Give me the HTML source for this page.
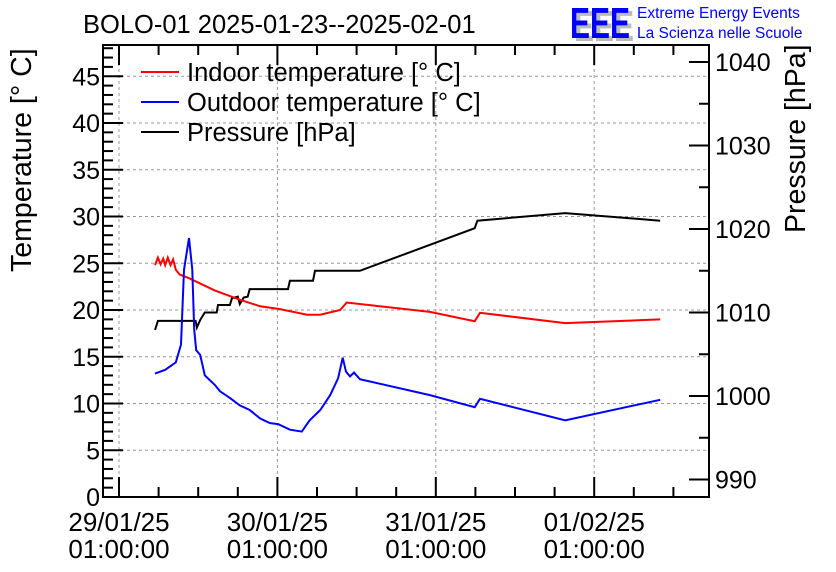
<!DOCTYPE html>
<html><head><meta charset="utf-8"><style>
body{margin:0;background:#fff;}
svg{display:block;font-family:"Liberation Sans",sans-serif;}
</style></head><body>
<svg id="c" width="836" height="572"></svg>
<script>
// data: hours since 29/01/25 01:00:00
const indoorT=[5.45,5.9,6.3,6.7,7.0,7.4,7.8,8.2,8.6,9.2,10.6,14.5,18.3,21.4,24.4,28.5,30.5,33.5,34.5,47.1,53.9,54.7,67.6,82.0];
const indoorV=[24.8,25.6,24.9,25.5,24.8,25.6,24.8,25.4,24.3,23.8,23.4,22.1,21.1,20.4,20.1,19.5,19.5,20.0,20.8,19.8,18.8,19.7,18.6,19.0];
const outdoorT=[5.45,7.0,8.0,8.6,9.4,9.85,10.6,11.1,11.4,11.7,12.3,13.0,14.5,15.3,16.8,18.3,19.8,21.4,22.9,24.1,25.9,27.7,28.9,30.5,32.0,33.2,33.9,34.4,35.0,35.6,36.5,47.1,53.9,54.7,67.6,82.0];
const outdoorV=[13.2,13.6,14.1,14.4,16.3,24.3,27.7,24.3,17.9,15.7,15.2,13.0,12.0,11.3,10.6,9.8,9.3,8.4,7.9,7.8,7.2,7.0,8.2,9.3,10.9,12.7,14.9,13.4,12.9,13.3,12.6,10.9,9.6,10.5,8.2,10.4];
const pressT=[5.45,5.9,11.6,11.8,12.3,13.0,14.8,15.0,16.8,17.1,18.0,18.3,18.9,19.5,19.8,25.6,25.9,29.4,29.7,36.5,53.9,54.3,67.6,82.0];
const pressV=[1007.9,1009.0,1009.0,1008.2,1009.1,1010.0,1010.0,1010.9,1010.9,1011.7,1011.9,1011.0,1011.8,1011.9,1012.8,1012.8,1013.8,1013.8,1015.0,1015.0,1020.1,1021.0,1021.9,1021.0];
const yTicks=[0,5,10,15,20,25,30,35,40,45];
const pTicks=[990,1000,1010,1020,1030,1040];
const xDays=["29/01/25","30/01/25","31/01/25","01/02/25"];

const L=103,R=709,T=45,B=497;
const X=h=>119+h*6.6;
const Y=v=>497-v*9.35;
const P=p=>479.5-(p-990)*8.35;
const svg=document.getElementById('c');
const NS='http://www.w3.org/2000/svg';
function mk(tag,attrs,parent){const e=document.createElementNS(NS,tag);for(const k in attrs)e.setAttribute(k,attrs[k]);(parent||svg).appendChild(e);return e;}

// grid
const grid=mk('g',{stroke:'#999','stroke-dasharray':'3,3','stroke-width':1});


yTicks.forEach(v=>{if(v>0)mk('line',{x1:L,x2:R,y1:Y(v),y2:Y(v)},grid);});
xDays.forEach((d,i)=>mk('line',{x1:X(i*24),x2:X(i*24),y1:T,y2:B},grid));

// series
function series(ts,vs,fy,color,name){
  const pts=ts.map((t,i)=>X(t).toFixed(1)+','+fy(vs[i]).toFixed(1)).join(' ');
  const e=mk('polyline',{points:pts,fill:'none',stroke:color,'stroke-width':2,'stroke-linejoin':'miter'});
  
  
}
series(pressT,pressV,P,'#000','pressure-line');
series(indoorT,indoorV,Y,'#f00','indoor-temperature-line');
series(outdoorT,outdoorV,Y,'#00f','outdoor-temperature-line');

// frame
const fr=mk('rect',{x:L,y:T,width:R-L,height:B-T,fill:'none',stroke:'#000','stroke-width':2});



// axis ticks
const ax=mk('g',{stroke:'#000','stroke-width':2});
for(let v=0;v<=48;v++){const len=v%5==0?20:10;mk('line',{x1:L,x2:L+len,y1:Y(v),y2:Y(v)},ax);}
for(let p=989;p<=1041;p++){if(p%5!=0)continue;const len=p%10==0?20:10;mk('line',{x1:R,x2:R-len,y1:P(p),y2:P(p)},ax);}
for(let h=-6;h<=90;h+=6){const x=X(h);if(x<L||x>R)continue;const len=h%24==0?20:10;mk('line',{x1:x,x2:x,y1:B,y2:B-len},ax);mk('line',{x1:x,x2:x,y1:T,y2:T+len},ax);}

function txt(s,x,y,attrs,name){const e=mk('text',Object.assign({x:x,y:y,'font-size':25,fill:'#000'},attrs||{}));e.textContent=s;return e;}
yTicks.forEach(v=>txt(String(v),L-3,Y(v)+9,{'text-anchor':'end'},'y-tick-label'));
pTicks.forEach(p=>txt(String(p),R+6,P(p)+9,{},'pressure-tick-label'));
xDays.forEach((d,i)=>{txt(d,X(i*24),531,{'text-anchor':'middle','font-size':26},'x-tick-date');txt('01:00:00',X(i*24),558,{'text-anchor':'middle','font-size':26},'x-tick-time');});

txt('BOLO-01 2025-01-23--2025-02-01',83,33,{'font-size':25.5},'chart-title');
txt('Temperature [° C]',0,0,{'font-size':28.5,transform:'translate(31,272) rotate(-90)'},'y-axis-title');
txt('Pressure [hPa]',0,0,{'font-size':28.5,transform:'translate(805,233) rotate(-90)'},'pressure-axis-title');

// legend
[['Indoor temperature [° C]','#f00',72],['Outdoor temperature [° C]','#00f',102],['Pressure [hPa]','#000',132]].forEach(([s,c,y],i)=>{
  const l=mk('line',{x1:141,x2:179,y1:y,y2:y,stroke:c,'stroke-width':2});
  
  
  txt(s,187,y+9,{'font-size':25.5},'legend-entry');
});

// logo
txt('EEE',574,41,{'font-size':44,'font-weight':'bold',fill:'#bbb',textLength:60,lengthAdjust:'spacingAndGlyphs'},'logo-shadow');
txt('EEE',570,38,{'font-size':44,'font-weight':'bold',fill:'#00f',textLength:60,lengthAdjust:'spacingAndGlyphs'},'logo');
txt('Extreme Energy Events',637,18,{'font-size':15.5,fill:'#00f'},'logo-line1');
txt('La Scienza nelle Scuole',637,38,{'font-size':15.5,fill:'#00f'},'logo-line2');
</script>
</body></html>
